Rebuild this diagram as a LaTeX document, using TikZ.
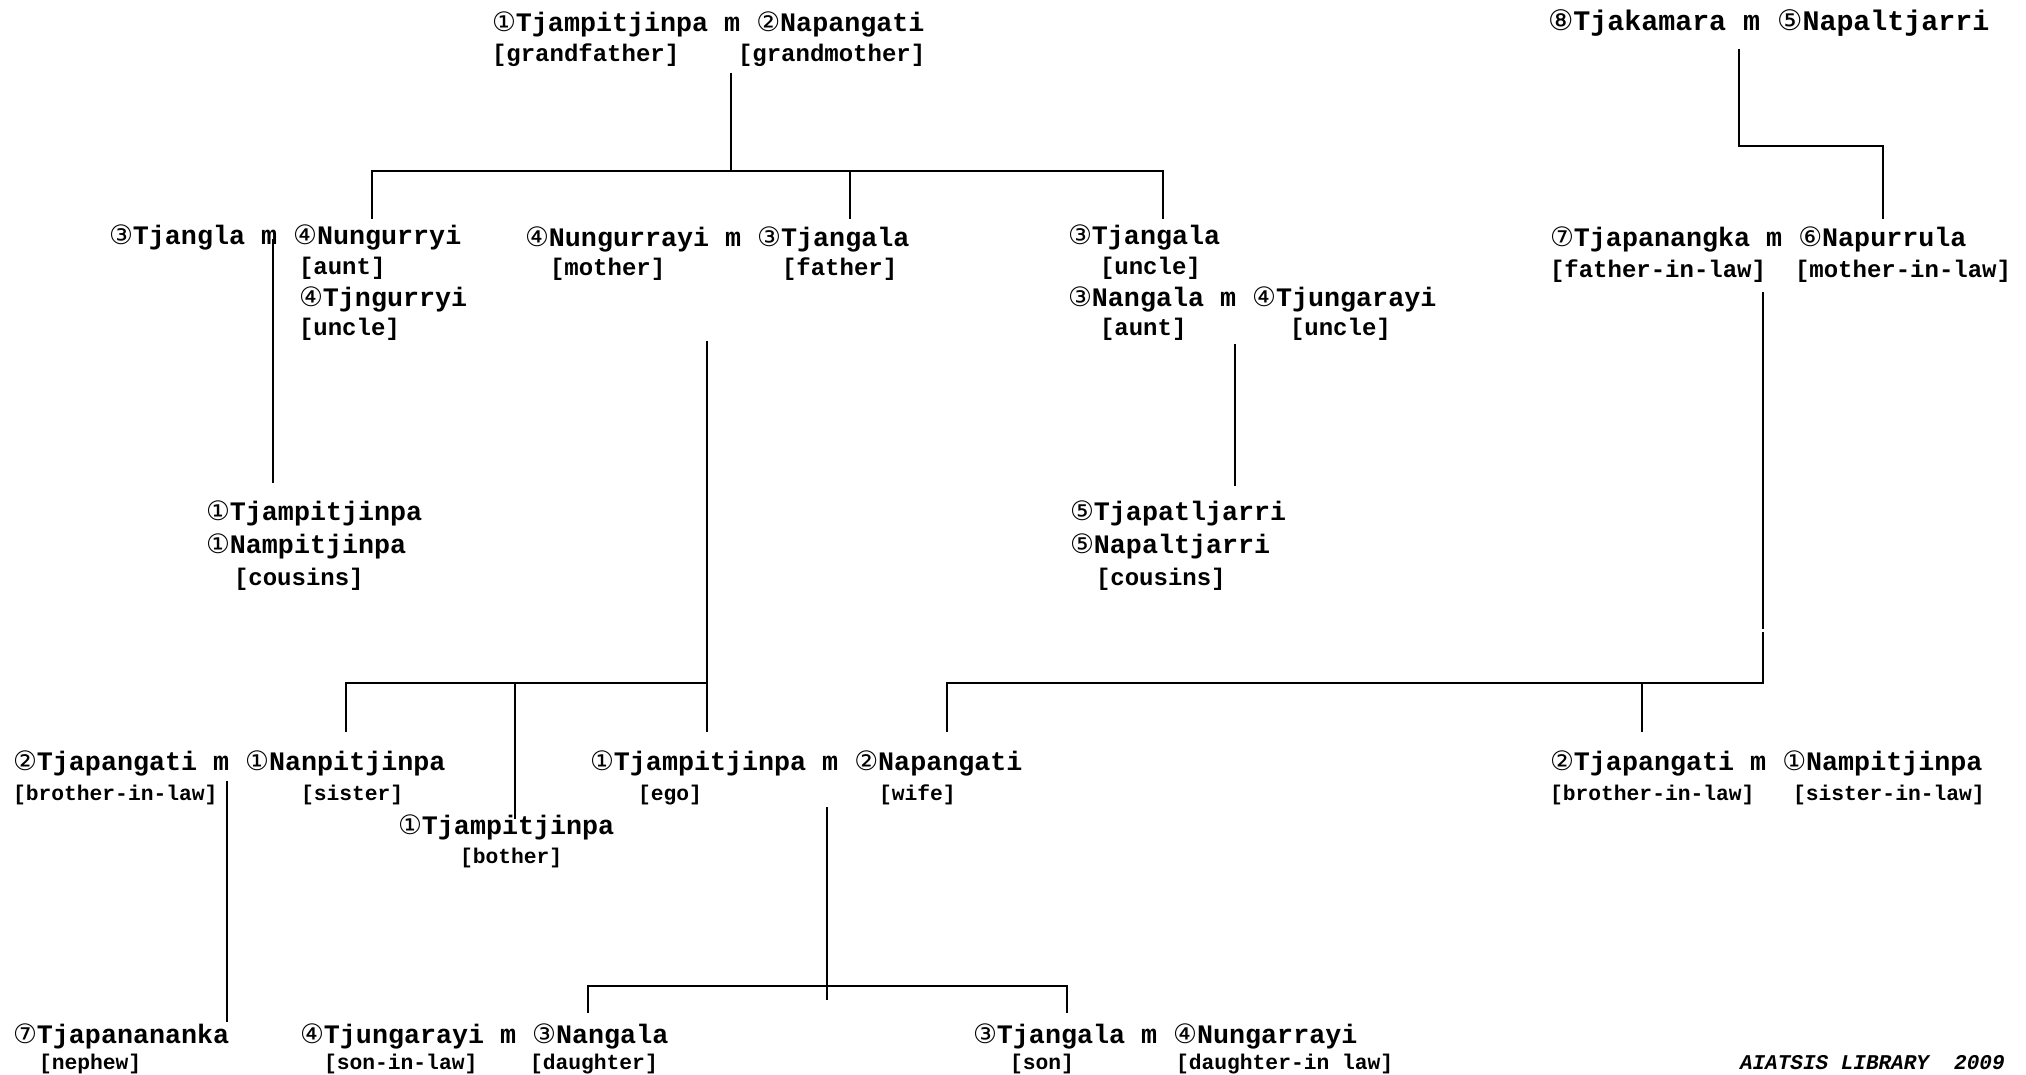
\documentclass[tikz,border=0pt]{standalone}
\usepackage{fontspec}
\newfontfamily\cour{Liberation Mono}
\newfontfamily\circf{DejaVu Sans}
\newcommand\cd[1]{{\circf\mdseries #1}}
\tikzset{
  base/.style={anchor=west, inner sep=0pt, outer sep=0pt, text height=0.6em, text depth=0.2em},
  nm/.style={base, font=\cour\bfseries\fontsize{26.7}{30}\selectfont},
  nmt/.style={base, font=\cour\bfseries\fontsize{28.3}{32}\selectfont},
  lb/.style={base, font=\cour\bfseries\fontsize{24}{28}\selectfont},
  lbs/.style={base, font=\cour\bfseries\fontsize{21.3}{25}\selectfont},
  ft/.style={base, font=\cour\bfseries\itshape\fontsize{21}{25}\selectfont},
  ln/.style={line width=1.8pt, line cap=rect}
}
\begin{document}
\begin{tikzpicture}[x=1pt, y=-1pt]
\useasboundingbox (0,0) rectangle (2026,1075);
% Row 1
\node[nm] (gp) at (492,30) {\cd{①}Tjampitjinpa m \cd{②}Napangati};
\node[lb] (gpl1) at (492,60) {[grandfather]};
\node[lb] (gpl2) at (738,60) {[grandmother]};
\node[nmt] (tk) at (1548,29) {\cd{⑧}Tjakamara m \cd{⑤}Napaltjarri};
% Row 2
\node[nm] (tj) at (109,243) {\cd{③}Tjangla m \cd{④}Nungurryi};
\node[lb] (tja) at (299,273) {[aunt]};
\node[nm] (tjn) at (299,304) {\cd{④}Tjngurryi};
\node[lb] (tjnu) at (299,333) {[uncle]};
\node[nm] (par) at (525,245) {\cd{④}Nungurrayi m \cd{③}Tjangala};
\node[lb] (parm) at (550,274) {[mother]};
\node[lb] (parf) at (782,274) {[father]};
\node[nm] (unc) at (1068,243) {\cd{③}Tjangala};
\node[lb] (uncl) at (1100,273) {[uncle]};
\node[nm] (nan) at (1068,304) {\cd{③}Nangala m \cd{④}Tjungarayi};
\node[lb] (nanl1) at (1100,333) {[aunt]};
\node[lb] (nanl2) at (1290,333) {[uncle]};
\node[nm] (il) at (1550,245) {\cd{⑦}Tjapanangka m \cd{⑥}Napurrula};
\node[lb] (ill1) at (1550,276) {[father-in-law]};
\node[lb] (ill2) at (1795,276) {[mother-in-law]};
% Row 3
\node[nm] (c1a) at (206,518) {\cd{①}Tjampitjinpa};
\node[nm] (c1b) at (206,551) {\cd{①}Nampitjinpa};
\node[lb] (c1l) at (234,583) {[cousins]};
\node[nm] (c2a) at (1070,518) {\cd{⑤}Tjapatljarri};
\node[nm] (c2b) at (1070,551) {\cd{⑤}Napaltjarri};
\node[lb] (c2l) at (1096,583) {[cousins]};
% Row 4
\node[nm] (sis) at (13,768) {\cd{②}Tjapangati m \cd{①}Nanpitjinpa};
\node[lbs] (sisl1) at (13,798) {[brother-in-law]};
\node[lbs] (sisl2) at (301,798) {[sister]};
\node[nm] (bro) at (398,832) {\cd{①}Tjampitjinpa};
\node[lbs] (brol) at (460,861) {[bother]};
\node[nm] (ego) at (590,768) {\cd{①}Tjampitjinpa m \cd{②}Napangati};
\node[lbs] (egol) at (638,798) {[ego]};
\node[lbs] (wifel) at (879,798) {[wife]};
\node[nm] (bil) at (1550,768) {\cd{②}Tjapangati m \cd{①}Nampitjinpa};
\node[lbs] (bill1) at (1550,798) {[brother-in-law]};
\node[lbs] (bill2) at (1793,798) {[sister-in-law]};
% Row 5
\node[nm] (nep) at (13,1041) {\cd{⑦}Tjapanananka};
\node[lbs] (nepl) at (39,1067) {[nephew]};
\node[nm] (dau) at (300,1041) {\cd{④}Tjungarayi m \cd{③}Nangala};
\node[lbs] (daul1) at (324,1067) {[son-in-law]};
\node[lbs] (daul2) at (530,1067) {[daughter]};
\node[nm] (son) at (973,1041) {\cd{③}Tjangala m \cd{④}Nungarrayi};
\node[lbs] (sonl1) at (1010,1067) {[son]};
\node[lbs] (sonl2) at (1176,1067) {[daughter-in law]};
\node[ft] (foot) at (1740,1067) {AIATSIS LIBRARY\ \ 2009};
% junction coordinates
\coordinate (gpA) at (731,74);
\coordinate (gpB) at (731,171);
\coordinate (h1L) at (372,171);
\coordinate (h1R) at (1163,171);
\coordinate (d1a) at (372,218);
\coordinate (d1b) at (850,218);
\coordinate (d1c) at (1163,218);
\coordinate (tkA) at (1739,50);
\coordinate (tkB) at (1739,146);
\coordinate (tkC) at (1883,146);
\coordinate (tkD) at (1883,218);
\coordinate (tjA) at (273,240);
\coordinate (tjB) at (273,482);
\coordinate (parA) at (707,342);
\coordinate (parB) at (707,683);
\coordinate (egoTop) at (707,731);
\coordinate (h2L) at (346,683);
\coordinate (sisTop) at (346,731);
\coordinate (h2M) at (515,683);
\coordinate (broTop) at (515,818);
\coordinate (nanA) at (1235,345);
\coordinate (nanB) at (1235,485);
\coordinate (ilA) at (1763,293);
\coordinate (ilG1) at (1763,628);
\coordinate (ilG2) at (1763,633);
\coordinate (ilB) at (1763,683);
\coordinate (h3L) at (947,683);
\coordinate (wifeTop) at (947,731);
\coordinate (h3M) at (1642,683);
\coordinate (bilTop) at (1642,731);
\coordinate (sisA) at (227,782);
\coordinate (nepTop) at (227,1021);
\coordinate (egoA) at (827,808);
\coordinate (egoB) at (827,999);
\coordinate (h4L) at (588,986);
\coordinate (h4R) at (1067,986);
\coordinate (dauTop) at (588,1012);
\coordinate (sonTop) at (1067,1012);
% connectors
\draw[ln] (gpA) -- (gpB);
\draw[ln] (h1L) -- (h1R);
\draw[ln] (h1L) -- (d1a);
\draw[ln] (gpB -| d1b) -- (d1b);
\draw[ln] (h1R) -- (d1c);
\draw[ln] (tkA) -- (tkB) -- (tkC) -- (tkD);
\draw[ln] (tjA) -- (tjB);
\draw[ln] (parA) -- (egoTop);
\draw[ln] (h2L) -- (parB);
\draw[ln] (h2L) -- (sisTop);
\draw[ln] (h2M) -- (broTop);
\draw[ln] (nanA) -- (nanB);
\draw[ln] (ilA) -- (ilG1);
\draw[ln] (ilG2) -- (ilB);
\draw[ln] (h3L) -- (ilB);
\draw[ln] (h3L) -- (wifeTop);
\draw[ln] (h3M) -- (bilTop);
\draw[ln] (sisA) -- (nepTop);
\draw[ln] (egoA) -- (egoB);
\draw[ln] (h4L) -- (h4R);
\draw[ln] (h4L) -- (dauTop);
\draw[ln] (h4R) -- (sonTop);
\end{tikzpicture}
\end{document}
